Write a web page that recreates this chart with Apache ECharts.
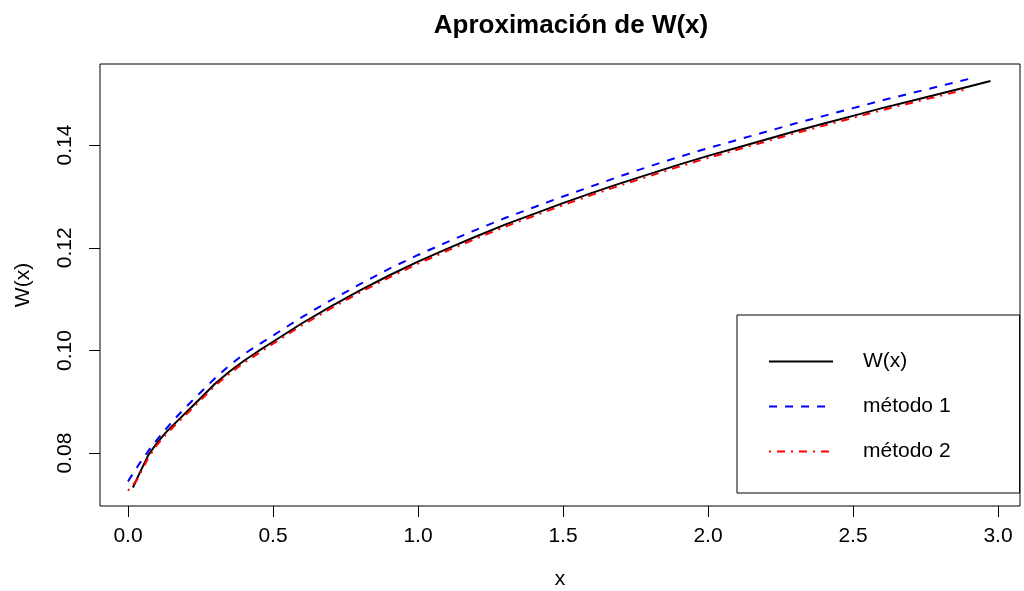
<!DOCTYPE html>
<html>
<head>
<meta charset="utf-8">
<script src="https://cdn.jsdelivr.net/npm/echarts@6/dist/echarts.min.js"></script>
<style>html,body{margin:0;padding:0;background:#fff;}#c{width:1024px;height:591px;}</style>
</head>
<body>
<div id="c"></div>
<script>
// ---- data ----
const xW  = [0.017,0.04,0.07,0.10,0.13,0.16,0.20,0.25,0.30,0.35,0.40,0.45,0.5,0.6,0.7,0.8,0.9,1.0,1.1,1.2,1.3,1.4,1.5,1.6,1.7,1.8,1.9,2.0,2.1,2.2,2.3,2.4,2.5,2.6,2.7,2.8,2.9,2.974];
const yW  = [0.0733,0.0761,0.0796,0.0820,0.0840,0.0857,0.0879,0.0907,0.0935,0.0959,0.0980,0.0999,0.1017,0.1053,0.1086,0.1117,0.1146,0.1173,0.1198,0.1222,0.1245,0.1266,0.1287,0.1307,0.1326,0.1344,0.1362,0.1379,0.1395,0.1411,0.1427,0.1442,0.1457,0.1472,0.1486,0.1500,0.1514,0.1525];
const xM1 = [0,0.04,0.08,0.12,0.16,0.20,0.25,0.30,0.35,0.40,0.5,0.6,0.7,0.8,0.9,1.0,1.1,1.2,1.3,1.4,1.5,1.6,1.7,1.8,1.9,2.0,2.1,2.2,2.3,2.4,2.5,2.6,2.7,2.8,2.9];
const yM1 = [0.0745,0.0780,0.0812,0.0840,0.0866,0.0890,0.0918,0.0946,0.0971,0.0993,0.1029,0.1065,0.1098,0.1129,0.1159,0.1186,0.1211,0.1235,0.1258,0.1279,0.1300,0.1320,0.1340,0.1359,0.1377,0.1394,0.1410,0.1426,0.1442,0.1457,0.1472,0.1487,0.1501,0.1515,0.1529];
const xM2 = [0,0.03,0.07,0.10,0.13,0.16,0.20,0.25,0.30,0.35,0.40,0.5,0.6,0.7,0.8,0.9,1.0,1.1,1.2,1.3,1.4,1.5,1.6,1.7,1.8,1.9,2.0,2.1,2.2,2.3,2.4,2.5,2.6,2.7,2.8,2.9];
const yM2 = [0.0727,0.0747,0.0791,0.0816,0.0836,0.0853,0.0875,0.0903,0.0931,0.0955,0.0976,0.1013,0.1049,0.1082,0.1113,0.1142,0.1169,0.1194,0.1218,0.1241,0.1262,0.1283,0.1303,0.1322,0.1340,0.1358,0.1375,0.1391,0.1407,0.1423,0.1438,0.1453,0.1468,0.1482,0.1496,0.1510];
const xTicks = [0,0.5,1.0,1.5,2.0,2.5,3.0];
const yTicks = [0.08,0.10,0.12,0.14];
const seriesNames = ['W(x)','método 1','método 2'];
const titleText = 'Aproximación de W(x)';

const pairs = (xs, ys) => xs.map((x, i) => [x, ys[i]]);
const FONT = 'Liberation Sans, Arial, Helvetica, sans-serif';

const chart = echarts.init(document.getElementById('c'), null, {renderer: 'canvas'});
chart.setOption({
  backgroundColor: '#fff',
  animation: false,
  title: {
    text: titleText, left: 566, top: 8, textAlign: 'center',
    textStyle: {fontFamily: FONT, fontSize: 26, fontWeight: 'bold', color: '#000'}
  },
  grid: {left: 100, right: 4, top: 64, bottom: 85, show: true, borderColor: '#000', borderWidth: 1,
    backgroundColor: 'transparent', containLabel: false, outerBoundsMode: 'none'},
  xAxis: {
    type: 'value', min: -0.09655, max: 3.0759,
    name: 'x', nameLocation: 'middle', nameGap: 63,
    nameTextStyle: {fontFamily: FONT, fontSize: 21, color: '#000'},
    axisLine: {show: false, onZero: false},
    splitLine: {show: false},
    axisTick: {show: true, length: 11, inside: false, customValues: xTicks, lineStyle: {color: '#000', width: 1}},
    axisLabel: {customValues: xTicks, margin: 20, fontFamily: FONT, fontSize: 21, color: '#000',
      formatter: v => v.toFixed(1), showMinLabel: true, showMaxLabel: true}
  },
  yAxis: {
    type: 'value', min: 0.0697, max: 0.1558,
    name: 'W(x)', nameLocation: 'middle', nameGap: 66, nameRotate: 90,
    nameTextStyle: {fontFamily: FONT, fontSize: 21, color: '#000'},
    axisLine: {show: false, onZero: false},
    splitLine: {show: false},
    axisTick: {show: true, length: 11, inside: false, customValues: yTicks, lineStyle: {color: '#000', width: 1}},
    axisLabel: {customValues: yTicks, rotate: 90, margin: 24, fontFamily: FONT, fontSize: 21, color: '#000',
      formatter: v => v.toFixed(2)}
  },
  legend: {
    orient: 'vertical', left: 737, top: 315,
    data: seriesNames,
    padding: [36, 69, 31, 31],
    itemGap: 24, itemWidth: 64, itemHeight: 14,
    borderColor: '#000', borderWidth: 1, backgroundColor: '#fff',
    itemStyle: {opacity: 0},
    textStyle: {fontFamily: FONT, fontSize: 21, color: '#000', lineHeight: 21, padding: [0, 0, 0, 25]}
  },
  series: [
    {name: seriesNames[0], type: 'line', data: pairs(xW, yW), showSymbol: false, symbol: 'none',
      lineStyle: {color: '#000', width: 2, type: 'solid'}, itemStyle: {color: '#000'}, z: 3},
    {name: seriesNames[1], type: 'line', data: pairs(xM1, yM1), showSymbol: false, symbol: 'none',
      lineStyle: {color: '#0000ff', width: 2, type: [8, 8]}, itemStyle: {color: '#0000ff'}, z: 2},
    {name: seriesNames[2], type: 'line', data: pairs(xM2, yM2), showSymbol: false, symbol: 'none',
      lineStyle: {color: '#ff0000', width: 2, type: [2, 6, 8, 6]}, itemStyle: {color: '#ff0000'}, z: 4}
  ]
});
</script>
</body>
</html>
